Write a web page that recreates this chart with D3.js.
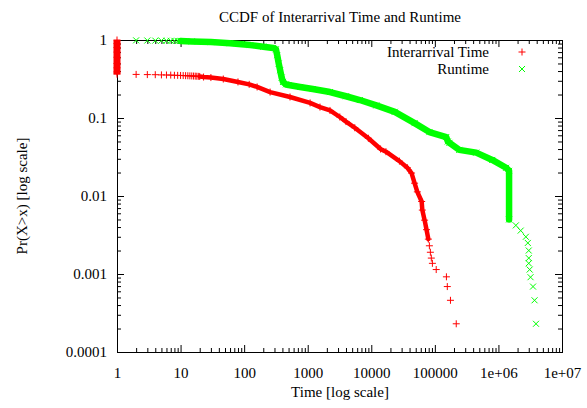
<!DOCTYPE html>
<html>
<head>
<meta charset="utf-8">
<script src="https://cdn.jsdelivr.net/npm/d3@7/dist/d3.min.js"></script>
<style>
  html, body { margin: 0; padding: 0; background: #fff; }
  svg { display: block; }
  svg text { font-family: "Liberation Serif", "Times New Roman", Times, "DejaVu Serif", serif !important; fill: #000; }
</style>
</head>
<body>
<svg id="chart" width="587" height="408"></svg>
<script>
// Tick values and labels
const xTickValues = [1, 10, 100, 1000, 10000, 100000, 1e6, 1e7];
const xTickLabels = ["1", "10", "100", "1000", "10000", "100000", "1e+06", "1e+07"];
const yTickValues = [0.0001, 0.001, 0.01, 0.1, 1];
const yTickLabels = ["0.0001", "0.001", "0.01", "0.1", "1"];

// Interarrival Time CCDF: (time, Pr(X>x))
const interarrivalX = [
  1, 1, 1, 1, 1, 1, 1, 1, 1,
  2, 3, 4, 5, 6, 7, 8, 9, 10, 11, 12, 13, 14, 15, 16, 17, 18, 19, 20,
  23, 30, 47, 80, 120, 160, 256, 527, 1090, 1560, 2240, 3200, 4000, 5500,
  9000, 14000, 17000, 27700, 37000, 43000, 48000, 53000, 62000, 63500,
  69000, 74000, 79000,
  82000, 85000, 88000, 91500, 105000, 152000, 157000, 176000, 217000
];
const interarrivalP = [
  1.0, 0.9, 0.8, 0.7, 0.6, 0.5, 0.44, 0.39, 0.365,
  0.362, 0.36, 0.359, 0.357, 0.356, 0.355, 0.353, 0.352, 0.351, 0.35, 0.349,
  0.348, 0.347, 0.346, 0.345, 0.344, 0.343, 0.342, 0.341,
  0.335, 0.33, 0.316, 0.29, 0.27, 0.25, 0.215, 0.186, 0.156, 0.138, 0.125,
  0.103, 0.09, 0.075, 0.055, 0.04, 0.037, 0.028, 0.023, 0.0197, 0.0146,
  0.0113, 0.0085, 0.0066, 0.0049, 0.0037, 0.0028,
  0.0023, 0.0019, 0.0016, 0.00137, 0.00114, 0.00092, 0.00069, 0.00046, 0.00023
];

// Runtime CCDF: (time, Pr(X>x))
const runtimeX = [
  2, 3, 4, 5, 6, 7, 8, 9, 10,
  15, 30, 60, 125, 200, 286, 316, 331, 350, 368, 389, 409, 456, 500, 760,
  1200, 2240, 4000, 6600, 12000, 23400, 48000, 82000, 151000, 160000,
  170000, 242000, 447000, 800000, 1320000, 1470000, 1470000,
  1880000, 2240000, 2700000, 2900000, 3000000, 3000000, 3000000, 3100000,
  3200000, 3500000, 3700000, 3900000
];
const runtimeP = [
  0.99, 0.985, 0.982, 0.98, 0.978, 0.976, 0.975, 0.973, 0.97,
  0.96, 0.94, 0.91, 0.86, 0.82, 0.79, 0.76, 0.64, 0.5, 0.41, 0.33, 0.29,
  0.27, 0.265, 0.25, 0.235, 0.215, 0.19, 0.17, 0.145, 0.12, 0.086, 0.066,
  0.057, 0.05, 0.048, 0.039, 0.036, 0.029, 0.023, 0.021, 0.005,
  0.0042, 0.0036, 0.003, 0.0025, 0.002, 0.0016, 0.00137, 0.00114,
  0.00091, 0.00069, 0.00046, 0.00023
];

const W = 587, H = 408;
const margin = { top: 40, right: 25, bottom: 56, left: 117 };
const FONT = "Liberation Serif";
const svg = d3.select("#chart").attr("font-family", FONT);

const x = d3.scaleLog().domain([1, 1e7]).range([margin.left, W - margin.right]);
const y = d3.scaleLog().domain([1e-4, 1]).range([H - margin.bottom, margin.top]);

// minor tick positions: 2..9 within each decade
function minors(lo, hi) {
  const out = [];
  for (let e = Math.log10(lo); e < Math.log10(hi); e++) {
    for (let m = 2; m <= 9; m++) out.push(m * Math.pow(10, e));
  }
  return out;
}
const xMinor = minors(1, 1e7);
const yMinor = minors(1e-4, 1);

const MAJOR = 7, MINOR = 4;
const x0 = x.range()[0], x1 = x.range()[1];
const y0 = y.range()[0], y1 = y.range()[1];

function drawAxis(axis, transform) {
  const g = svg.append("g").attr("transform", transform).call(axis);
  g.attr("font-family", FONT).attr("font-size", 15);
  g.select(".domain").remove();
  g.selectAll(".tick line").attr("stroke", "#000").attr("stroke-width", 1);
  return g;
}

// bottom axis with labels
drawAxis(
  d3.axisBottom(x).tickValues(xTickValues)
    .tickFormat((d, i) => xTickLabels[i])
    .tickSizeInner(-MAJOR).tickSizeOuter(0).tickPadding(15),
  `translate(0,${y0})`);
drawAxis(d3.axisBottom(x).tickValues(xMinor).tickFormat("").tickSizeInner(-MINOR).tickSizeOuter(0),
  `translate(0,${y0})`);
// top mirror
drawAxis(d3.axisTop(x).tickValues(xTickValues).tickFormat("").tickSizeInner(-MAJOR).tickSizeOuter(0),
  `translate(0,${y1})`);
drawAxis(d3.axisTop(x).tickValues(xMinor).tickFormat("").tickSizeInner(-MINOR).tickSizeOuter(0),
  `translate(0,${y1})`);

// left axis with labels
drawAxis(
  d3.axisLeft(y).tickValues(yTickValues)
    .tickFormat((d, i) => yTickLabels[i])
    .tickSizeInner(-MAJOR).tickSizeOuter(0).tickPadding(10),
  `translate(${x0},0)`);
drawAxis(d3.axisLeft(y).tickValues(yMinor).tickFormat("").tickSizeInner(-MINOR).tickSizeOuter(0),
  `translate(${x0},0)`);
// right mirror
drawAxis(d3.axisRight(y).tickValues(yTickValues).tickFormat("").tickSizeInner(-MAJOR).tickSizeOuter(0),
  `translate(${x1},0)`);
drawAxis(d3.axisRight(y).tickValues(yMinor).tickFormat("").tickSizeInner(-MINOR).tickSizeOuter(0),
  `translate(${x1},0)`);

// plot border
svg.append("rect")
  .attr("x", x0 + 0.5).attr("y", y1 + 0.5)
  .attr("width", x1 - x0).attr("height", y0 - y1)
  .attr("fill", "none").attr("stroke", "#000").attr("stroke-width", 1);

// point markers
const PLUS = "M-3.5,0H3.5M0,-3.5V3.5";
const CROSS = "M-3,-3L3,3M-3,3L3,-3";

const series = [
  { name: "Interarrival Time", xs: interarrivalX, ps: interarrivalP, color: "#ff0000",
    marker: PLUS, band: 4.5, runs: [[1, 1], [20, 79000]] },
  { name: "Runtime", xs: runtimeX, ps: runtimeP, color: "#00ff00",
    marker: CROSS, band: 6.5, runs: [[10, 1470000]] }
];

const line = d3.line().x(d => x(d[0])).y(d => y(d[1]));

series.forEach((s, si) => {
  const pts = s.xs.map((v, i) => [v, s.ps[i]]);
  const g = svg.append("g");
  // densely packed stretches read as a solid band of overlapping markers
  s.runs.forEach(([a, b]) => {
    const run = pts.filter(p => p[0] >= a && p[0] <= b);
    if (a === b) {
      // stack of markers at a single x
      g.append("path").attr("d", line(run))
        .attr("fill", "none").attr("stroke", s.color)
        .attr("stroke-width", 7).attr("stroke-linecap", "butt");
    } else {
      g.append("path").attr("d", line(run))
        .attr("fill", "none").attr("stroke", s.color)
        .attr("stroke-width", s.band).attr("stroke-linejoin", "round")
        .attr("stroke-linecap", "round");
    }
  });
  g.selectAll("path.mk").data(pts).join("path")
    .attr("class", "mk")
    .attr("transform", d => `translate(${x(d[0])},${y(d[1])})`)
    .attr("d", s.marker)
    .attr("fill", "none").attr("stroke", s.color).attr("stroke-width", 1);

  // legend entry
  const ly = 52 + si * 17;
  svg.append("text").attr("x", 489).attr("y", ly + 5)
    .attr("text-anchor", "end").attr("font-size", 15).text(s.name);
  svg.append("path").attr("transform", `translate(522,${ly})`)
    .attr("d", s.marker).attr("fill", "none")
    .attr("stroke", s.color).attr("stroke-width", 1);
});

// titles
svg.append("text").attr("x", 340).attr("y", 22).attr("text-anchor", "middle")
  .attr("font-size", 15).text("CCDF of Interarrival Time and Runtime");
svg.append("text").attr("x", 340).attr("y", 397).attr("text-anchor", "middle")
  .attr("font-size", 15).text("Time [log scale]");
svg.append("text").attr("transform", "translate(27,196) rotate(-90)")
  .attr("text-anchor", "middle").attr("font-size", 15).text("Pr(X>x) [log scale]");
</script>
</body>
</html>
